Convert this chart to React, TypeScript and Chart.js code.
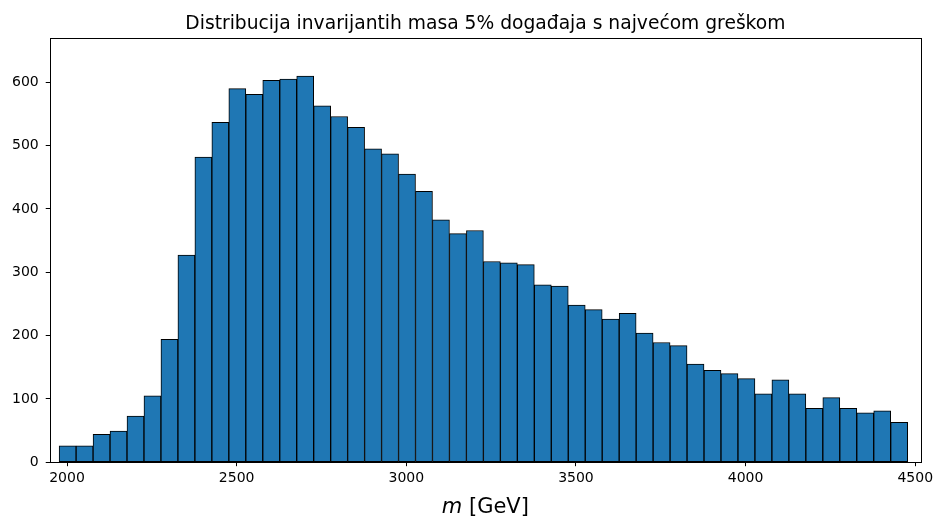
import React, { useEffect, useRef } from "react";
import { Chart, registerables } from "chart.js";

Chart.register(...registerables);

const titleText = "Distribucija invarijantih masa 5% događaja s najvećom greškom";
const xLabelItalic = "m";
const xLabelRest = " [GeV]";
const binStart = 1976.7;
const binWidth = 50.02;
const counts = [
  26, 26, 44, 49, 73, 105, 194, 327, 482, 537,
  590, 581, 603, 605, 610, 563, 546, 529, 495, 487,
  455, 428, 383, 361, 366, 317, 315, 312, 280, 278,
  248, 241, 226, 235, 204, 189, 184, 155, 145, 140,
  132, 108, 130, 108, 85, 102, 85, 78, 81, 63,
];
const xTicks = [2000, 2500, 3000, 3500, 4000, 4500];
const yTicks = [0, 100, 200, 300, 400, 500, 600];
const xRange = [1949, 4517];
const yRange = [0, 670];

const FONT = "'DejaVu Sans', sans-serif";

const boxPlugin = {
  id: "boxPlugin",
  afterDatasetsDraw(chart: any) {
    const { ctx, chartArea } = chart;
    ctx.save();
    ctx.strokeStyle = "#000";
    ctx.lineWidth = 1;
    ctx.strokeRect(
      Math.round(chartArea.left) + 0.5,
      Math.round(chartArea.top) + 0.5,
      Math.round(chartArea.right - chartArea.left),
      Math.round(chartArea.bottom - chartArea.top)
    );
    const cx = (chartArea.left + chartArea.right) / 2;
    ctx.fillStyle = "#000";
    // title
    ctx.font = `18.7px ${FONT}`;
    ctx.textAlign = "center";
    ctx.textBaseline = "alphabetic";
    ctx.fillText(titleText, cx, chartArea.top - 9.5);
    // x axis label with italic m
    const size = 21;
    ctx.textBaseline = "middle";
    ctx.textAlign = "left";
    const fItal = `italic ${size}px ${FONT}`;
    const fNorm = `${size}px ${FONT}`;
    ctx.font = fItal;
    const w1 = ctx.measureText(xLabelItalic).width;
    ctx.font = fNorm;
    const w2 = ctx.measureText(xLabelRest).width;
    const y = chartArea.bottom + 45;
    const x = cx - (w1 + w2) / 2;
    ctx.font = fItal;
    ctx.fillText(xLabelItalic, x, y);
    ctx.font = fNorm;
    ctx.fillText(xLabelRest, x + w1, y);
    ctx.restore();
  },
};

export default function App() {
  const ref = useRef<HTMLCanvasElement | null>(null);
  useEffect(() => {
    if (!ref.current) return;
    const data = counts.map((c, i) => ({ x: binStart + binWidth * (i + 0.5), y: c }));
    const chart = new Chart(ref.current, {
      type: "bar",
      data: {
        datasets: [
          {
            data: data as any,
            backgroundColor: "#1f77b4",
            borderColor: "#000",
            borderWidth: 1,
            borderSkipped: false,
            barPercentage: 1,
            categoryPercentage: 1,
          },
        ],
      },
      options: {
        animation: false,
        responsive: false,
        maintainAspectRatio: false,
        layout: { padding: { left: 5, right: 14, top: 38, bottom: 27 } },
        plugins: {
          legend: { display: false },
          tooltip: { enabled: false },
          title: { display: false },
        },
        scales: {
          x: {
            type: "linear",
            min: xRange[0],
            max: xRange[1],
            offset: false,
            afterBuildTicks: (scale: any) => {
              scale.ticks = xTicks.map((v) => ({ value: v }));
            },
            afterFit: (scale: any) => {
              scale.paddingRight = 0;
              scale.paddingLeft = 0;
            },
            grid: {
              display: true,
              offset: false,
              drawOnChartArea: false,
              drawTicks: true,
              tickLength: 4,
              color: "#000",
              lineWidth: 1,
            },
            border: { display: false },
            ticks: {
              color: "#000",
              font: { family: FONT, size: 14 },
              padding: 4,
              maxRotation: 0,
              autoSkip: false,
              callback: (v: any) => String(v),
            },
            title: { display: false },
          },
          y: {
            type: "linear",
            min: yRange[0],
            max: yRange[1],
            afterBuildTicks: (scale: any) => {
              scale.ticks = yTicks.map((v) => ({ value: v }));
            },
            grid: {
              display: true,
              drawOnChartArea: false,
              drawTicks: true,
              tickLength: 4,
              color: "#000",
              lineWidth: 1,
            },
            border: { display: false },
            ticks: {
              color: "#000",
              font: { family: FONT, size: 14 },
              padding: 7,
              autoSkip: false,
              callback: (v: any) => String(v),
            },
          },
        },
      },
      plugins: [boxPlugin],
    });
    return () => chart.destroy();
  }, []);
  return (
    <div style={{ position: "fixed", left: 0, top: 0, width: 935, height: 518, background: "#fff" }}>
      <canvas ref={ref} width={935} height={518} style={{ width: 935, height: 518, display: "block" }} />
    </div>
  );
}
